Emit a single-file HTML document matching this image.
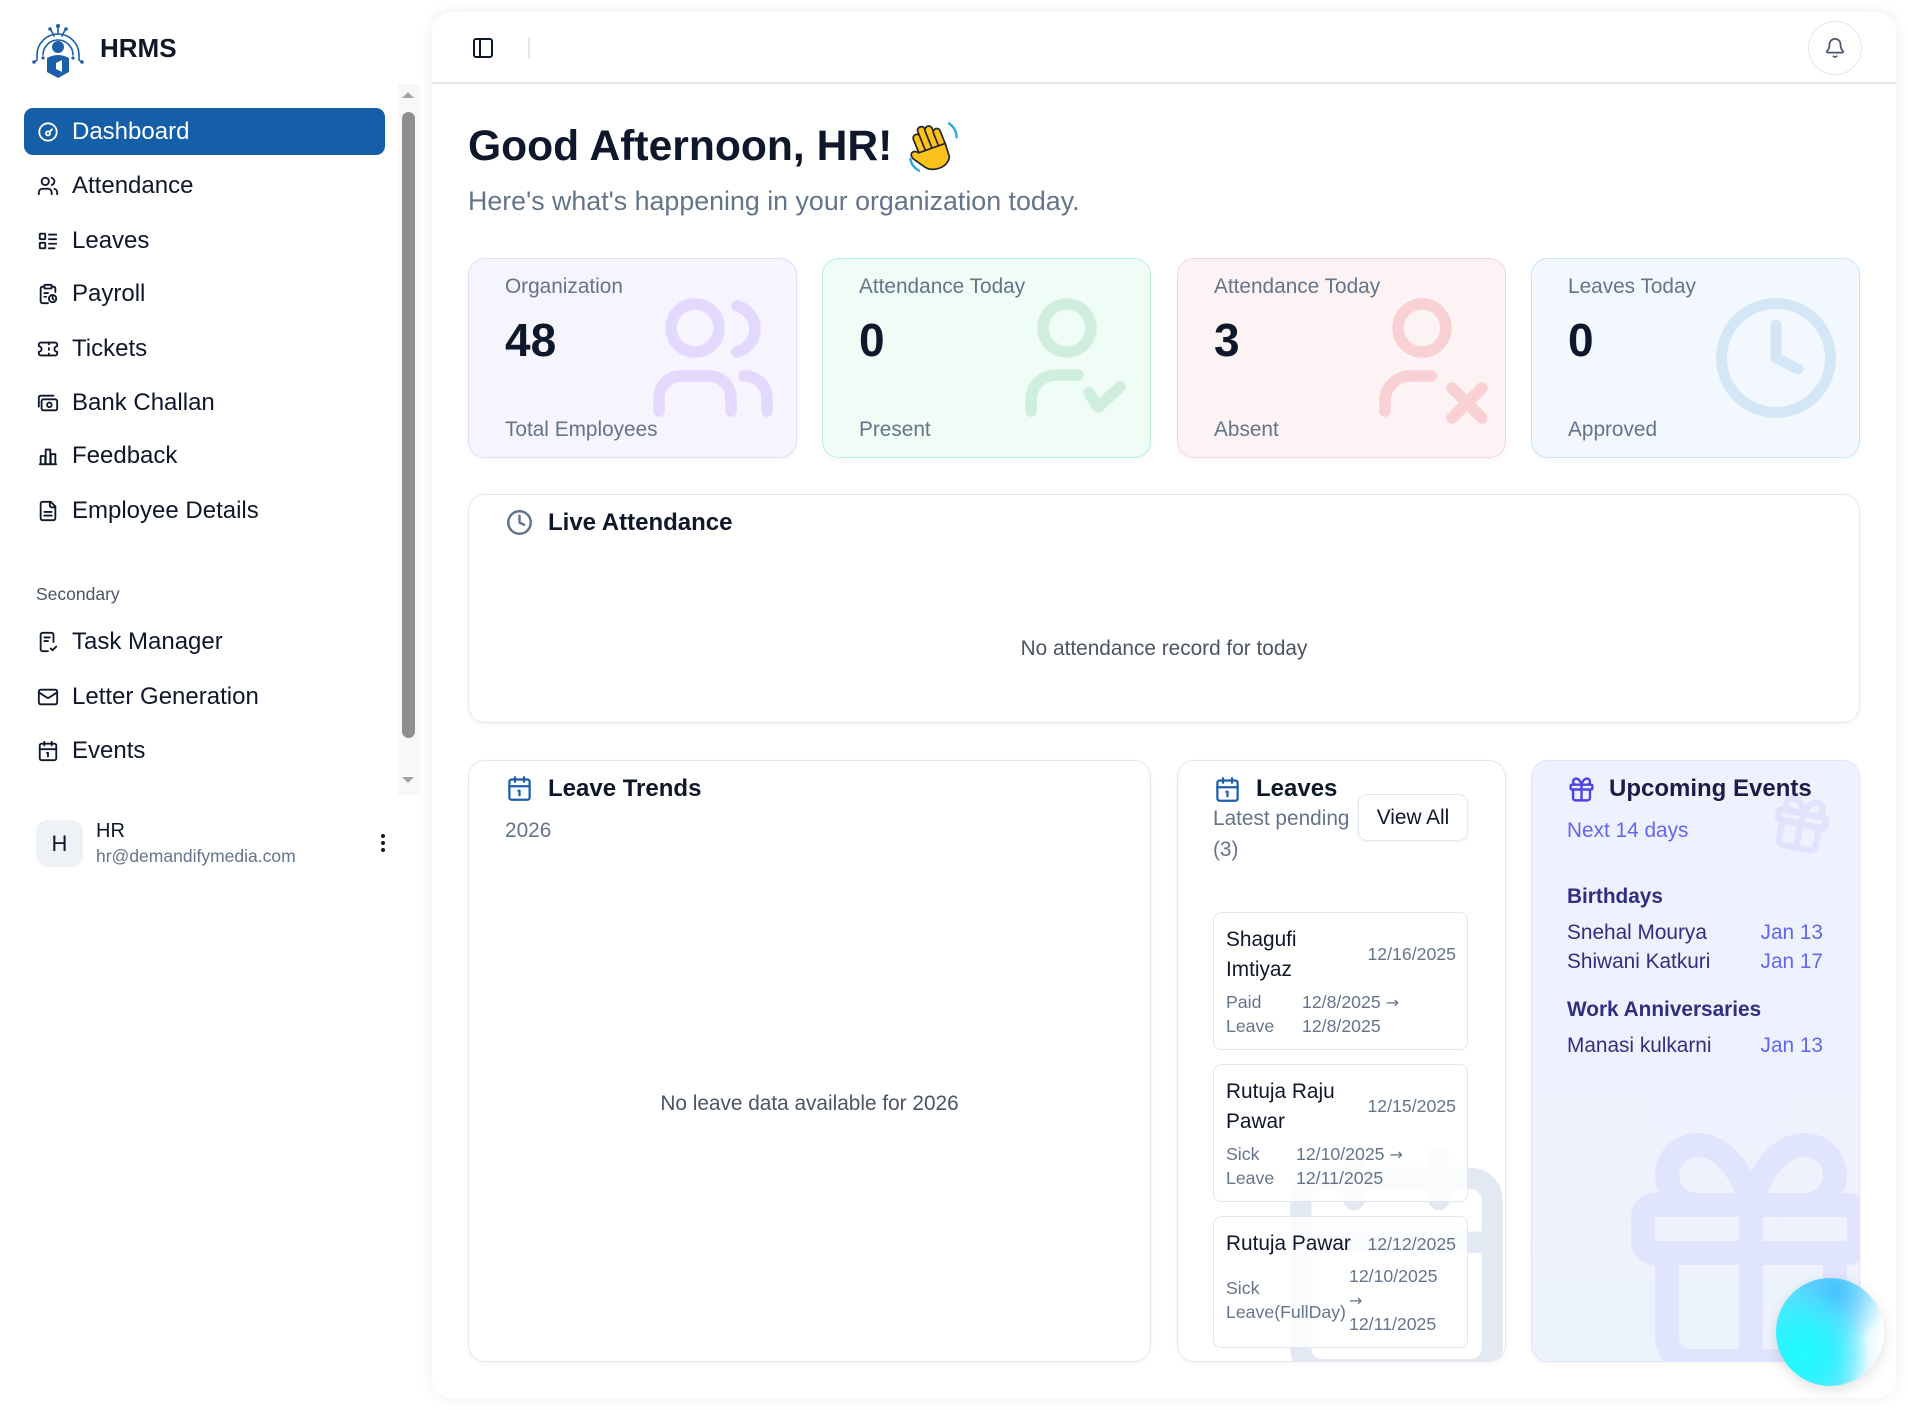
<!DOCTYPE html>
<html><head><meta charset="utf-8">
<style>
*{box-sizing:border-box;margin:0;padding:0}
html,body{width:1908px;height:1410px;overflow:hidden;background:#fff}
body{position:relative;font-family:"Liberation Sans",Arial,sans-serif;color:#0f172a}
.a{position:absolute;white-space:nowrap;line-height:30px;height:30px}
.ic{position:absolute;fill:none;stroke:#0f172a;stroke-width:2;stroke-linecap:round;stroke-linejoin:round}
.nav{font-size:24px;color:#0f172a}
.m{font-size:20.8px}
.s{font-size:17.7px;color:#64748b}
.g{color:#64748b}
.b{font-weight:bold}
.ar{font-family:"DejaVu Sans",sans-serif;font-size:16px}
.card{position:absolute;border-radius:17px;overflow:hidden}
.item{position:absolute;left:1213px;width:255px;border:1px solid #e2e8f0;border-radius:8px;background:rgba(255,255,255,0.8);backdrop-filter:blur(3px)}
</style></head><body>

<!-- Sidebar -->
<svg style="position:absolute;left:31px;top:22px" width="54" height="58" viewBox="0 0 54 58">
 <g fill="none" stroke="#1c5ea9" stroke-width="1.6" stroke-linecap="round">
  <path d="M6 33 A21 21 0 0 1 48 33"/>
  <path d="M12 33 A15 15 0 0 1 42 33"/>
  <path d="M27 4 V12"/><path d="M20 8 L23 14"/><path d="M34 8 L31 14"/>
  <path d="M6 33 V38 L3 40"/><path d="M48 33 V38 L51 40"/>
 </g>
 <g fill="#1c5ea9">
  <circle cx="27" cy="4" r="2"/><circle cx="19" cy="7" r="1.8"/><circle cx="35" cy="7" r="1.8"/>
  <circle cx="3" cy="40" r="1.8"/><circle cx="51" cy="40" r="1.8"/>
  <circle cx="12" cy="36" r="1.6"/><circle cx="42" cy="36" r="1.6"/>
  <circle cx="27" cy="25" r="6"/>
  <path d="M16 36 Q27 30 38 36 L38 50 L27 56 L16 50 Z"/>
 </g>
 <path d="M25 41 L31 38 L31 50 L25 47 Z" fill="#fff"/>
</svg>
<div class="a b" style="left:100px;top:33px;font-size:26px">HRMS</div>

<div style="position:absolute;left:24px;top:108px;width:361px;height:47px;border-radius:9px;background:#155ea8"></div>
<svg class="ic" style="left:37px;top:121px;stroke:#fff" width="22" height="22" viewBox="0 0 24 24"><circle cx="12" cy="12" r="9.5"/><circle cx="12" cy="13.5" r="2.2"/><path d="M13.6 12 16.5 9"/></svg>
<div class="a nav" style="left:72px;top:117px;color:#fff">Dashboard</div>

<svg class="ic" style="left:37px;top:175px" width="22" height="22" viewBox="0 0 24 24"><path d="M16 21v-2a4 4 0 0 0-4-4H6a4 4 0 0 0-4 4v2"/><circle cx="9" cy="7" r="4"/><path d="M22 21v-2a4 4 0 0 0-3-3.87"/><path d="M16 3.13a4 4 0 0 1 0 7.75"/></svg>
<div class="a nav" style="left:72px;top:171px">Attendance</div>

<svg class="ic" style="left:37px;top:230px" width="22" height="22" viewBox="0 0 24 24"><rect x="3" y="4" width="6" height="6" rx="1"/><rect x="3" y="14" width="6" height="6" rx="1"/><path d="M13 5h8M13 10h8M13 15h8M13 20h6"/></svg>
<div class="a nav" style="left:72px;top:226px">Leaves</div>

<svg class="ic" style="left:37px;top:283px" width="22" height="22" viewBox="0 0 24 24"><rect x="8" y="2" width="8" height="4" rx="1"/><path d="M16 4h2a2 2 0 0 1 2 2v4"/><path d="M8 4H6a2 2 0 0 0-2 2v14a2 2 0 0 0 2 2h6"/><circle cx="17" cy="17" r="4"/><path d="M17 15v2l1 1"/><path d="M8 11h4M8 15h2"/></svg>
<div class="a nav" style="left:72px;top:279px">Payroll</div>

<svg class="ic" style="left:37px;top:338px" width="22" height="22" viewBox="0 0 24 24"><path d="M2 9a3 3 0 0 1 0 6v2a2 2 0 0 0 2 2h16a2 2 0 0 0 2-2v-2a3 3 0 0 1 0-6V7a2 2 0 0 0-2-2H4a2 2 0 0 0-2 2Z"/><path d="M13 5v2M13 17v2M13 11v2"/></svg>
<div class="a nav" style="left:72px;top:334px">Tickets</div>

<svg class="ic" style="left:37px;top:392px" width="22" height="22" viewBox="0 0 24 24"><rect x="5" y="8" width="17" height="12" rx="2"/><circle cx="13.5" cy="14" r="2.5"/><path d="M2 16V6a2 2 0 0 1 2-2h14"/></svg>
<div class="a nav" style="left:72px;top:388px">Bank Challan</div>

<svg class="ic" style="left:37px;top:445px" width="22" height="22" viewBox="0 0 24 24"><path d="M3 21h18"/><rect x="4" y="12" width="5" height="9"/><rect x="9.5" y="5" width="5" height="16"/><rect x="15" y="10" width="5" height="11"/></svg>
<div class="a nav" style="left:72px;top:441px">Feedback</div>

<svg class="ic" style="left:37px;top:500px" width="22" height="22" viewBox="0 0 24 24"><path d="M15 2H6a2 2 0 0 0-2 2v16a2 2 0 0 0 2 2h12a2 2 0 0 0 2-2V7Z"/><path d="M14 2v4a2 2 0 0 0 2 2h4"/><path d="M16 13H8M16 17H8"/></svg>
<div class="a nav" style="left:72px;top:496px">Employee Details</div>

<div class="a" style="left:36px;top:579px;font-size:17.5px;color:#4b5563">Secondary</div>

<svg class="ic" style="left:37px;top:631px" width="22" height="22" viewBox="0 0 24 24"><path d="M18 12V4a2 2 0 0 0-2-2H6a2 2 0 0 0-2 2v16a2 2 0 0 0 2 2h6"/><path d="M8 7h6M8 11h4"/><path d="m15 19 2 2 4-4"/></svg>
<div class="a nav" style="left:72px;top:627px">Task Manager</div>

<svg class="ic" style="left:37px;top:686px" width="22" height="22" viewBox="0 0 24 24"><rect x="2" y="4" width="20" height="16" rx="2"/><path d="m22 7-8.97 5.7a1.94 1.94 0 0 1-2.06 0L2 7"/></svg>
<div class="a nav" style="left:72px;top:682px">Letter Generation</div>

<svg class="ic" style="left:37px;top:740px" width="22" height="22" viewBox="0 0 24 24"><rect x="3" y="4" width="18" height="18" rx="2"/><path d="M16 2v4M8 2v4M3 10h18M11 14h1v4"/></svg>
<div class="a nav" style="left:72px;top:736px">Events</div>

<!-- scrollbar -->
<div style="position:absolute;left:398px;top:84px;width:22px;height:711px;background:#f8f8f8"></div>
<div style="position:absolute;left:402px;top:92px;width:0;height:0;border-left:6px solid transparent;border-right:6px solid transparent;border-bottom:6px solid #a3a3a3"></div>
<div style="position:absolute;left:402px;top:112px;width:13px;height:626px;border-radius:7px;background:#8f8f8f"></div>
<div style="position:absolute;left:402px;top:777px;width:0;height:0;border-left:6px solid transparent;border-right:6px solid transparent;border-top:6px solid #a3a3a3"></div>

<!-- user -->
<div style="position:absolute;left:36px;top:820px;width:47px;height:47px;border-radius:12px;background:#eef2f7;text-align:center;line-height:47px;font-size:22px;color:#0f172a">H</div>
<div class="a" style="left:96px;top:816px;font-size:20px">HR</div>
<div class="a" style="left:96px;top:841px;font-size:17.5px;color:#64748b">hr@demandifymedia.com</div>
<div style="position:absolute;left:381px;top:834px;width:4px;height:4px;border-radius:2px;background:#0f172a"></div>
<div style="position:absolute;left:381px;top:841px;width:4px;height:4px;border-radius:2px;background:#0f172a"></div>
<div style="position:absolute;left:381px;top:848px;width:4px;height:4px;border-radius:2px;background:#0f172a"></div>

<!-- Main panel -->
<div style="position:absolute;left:432px;top:12px;width:1464px;height:1386px;border-radius:20px;background:#fff;box-shadow:0 0 16px rgba(0,0,0,0.07)"></div>
<div style="position:absolute;left:432px;top:82px;width:1464px;height:1.5px;background:#e5e7eb"></div>
<svg class="ic" style="left:471px;top:36px" width="24" height="24" viewBox="0 0 24 24"><rect width="18" height="18" x="3" y="3" rx="2"/><path d="M9 3v18"/></svg>
<div style="position:absolute;left:528px;top:37px;width:1.5px;height:22px;background:#e2e8f0"></div>
<div style="position:absolute;left:1808px;top:21px;width:54px;height:54px;border-radius:50%;border:1px solid #e2e8f0;background:#fff"></div>
<svg class="ic" style="left:1824px;top:37px;stroke:#475569;stroke-width:1.9" width="22" height="22" viewBox="0 0 24 24"><path d="M10.268 21a2 2 0 0 0 3.464 0"/><path d="M3.262 15.326A1 1 0 0 0 4 17h16a1 1 0 0 0 .74-1.673C19.41 13.956 18 12.499 18 8A6 6 0 0 0 6 8c0 4.499-1.411 5.956-2.738 7.326"/></svg>

<!-- Greeting -->
<div class="a b" style="left:468px;top:121px;line-height:50px;height:50px;font-size:42.6px">Good Afternoon, HR!</div>
<svg style="position:absolute;left:905px;top:118px" width="58" height="58" viewBox="0 0 54 54">
 <g transform="rotate(-22 27 30)" fill="#fcc21b" stroke="#262626" stroke-width="1.6" stroke-linejoin="round">
  <rect x="13" y="10" width="7" height="24" rx="3.5"/>
  <rect x="19.5" y="5" width="7" height="27" rx="3.5"/>
  <rect x="26" y="7" width="7" height="25" rx="3.5"/>
  <rect x="32.5" y="12" width="6.5" height="21" rx="3.2"/>
  <path d="M13 27 C9 22 4 24 6 30 L13 41 C18 49 33 50 38 41 L39 28 Z"/>
 </g>
 <path d="M41 5 q7 5 7 13" stroke="#29a8e0" stroke-width="2.2" fill="none" stroke-linecap="round"/>
 <path d="M5 38 q1 7 8 11" stroke="#29a8e0" stroke-width="2.2" fill="none" stroke-linecap="round"/>
</svg>
<div class="a g" style="left:468px;top:186px;font-size:26.8px">Here's what's happening in your organization today.</div>

<!-- Stat cards -->
<div class="card" style="left:468px;top:258px;width:329px;height:200px;background:#f6f4fe;border:1px solid #e2dcfd;box-shadow:0 2px 6px rgba(0,0,0,0.04)">
 <svg style="position:absolute;left:-1px;top:-1px;overflow:visible" width="329" height="200" fill="none" stroke="#e4d8fc" stroke-width="11.5" stroke-linecap="round">
  <circle cx="227" cy="70" r="24"/>
  <path d="M191 153V140a22 22 0 0 1 22-22h28a22 22 0 0 1 22 22v13"/>
  <path d="M276 118a22 22 0 0 1 23 22v13"/>
  <path d="M269 48a23.7 23.7 0 0 1 0 46"/>
 </svg>
</div>
<div class="card" style="left:822px;top:258px;width:329px;height:200px;background:#effdf6;border:1px solid #b8f1d4;box-shadow:0 2px 6px rgba(0,0,0,0.04)">
 <svg style="position:absolute;left:6px;top:-1px;overflow:visible" width="329" height="200" fill="none" stroke="#cfeee0" stroke-width="11.5" stroke-linecap="round" stroke-linejoin="round">
  <circle cx="238" cy="70" r="24"/>
  <path d="M202 153v-11a25 25 0 0 1 25-25h22"/>
  <path d="M260 135l9 14 22-20"/>
 </svg>
</div>
<div class="card" style="left:1177px;top:258px;width:329px;height:200px;background:#fdf3f4;border:1px solid #fbd3d6;box-shadow:0 2px 6px rgba(0,0,0,0.04)">
 <svg style="position:absolute;left:-2px;top:-1px;overflow:visible" width="329" height="200" fill="none" stroke="#f9d1d5" stroke-width="11.5" stroke-linecap="round">
  <circle cx="246" cy="70" r="24"/>
  <path d="M209 153v-10a25 25 0 0 1 25-25h21"/>
  <path d="M276 130l30 30M306 130l-30 30"/>
 </svg>
</div>
<div class="card" style="left:1531px;top:258px;width:329px;height:200px;background:#f3f8fe;border:1px solid #c5e5fb;box-shadow:0 2px 6px rgba(0,0,0,0.04)">
 <svg style="position:absolute;left:-3px;top:-1px;overflow:visible" width="329" height="200" fill="none" stroke="#d3e7f6" stroke-width="11" stroke-linecap="round" stroke-linejoin="round">
  <circle cx="247" cy="100" r="54.5"/>
  <path d="M247 67v33l22 11"/>
 </svg>
</div>

<div class="a m g" style="left:505px;top:272px">Organization</div>
<div class="a b" style="left:505px;top:315px;line-height:50px;height:50px;font-size:46px">48</div>
<div class="a m g" style="left:505px;top:415px">Total Employees</div>

<div class="a m g" style="left:859px;top:272px">Attendance Today</div>
<div class="a b" style="left:859px;top:315px;line-height:50px;height:50px;font-size:46px">0</div>
<div class="a m g" style="left:859px;top:415px">Present</div>

<div class="a m g" style="left:1214px;top:272px">Attendance Today</div>
<div class="a b" style="left:1214px;top:315px;line-height:50px;height:50px;font-size:46px">3</div>
<div class="a m g" style="left:1214px;top:415px">Absent</div>

<div class="a m g" style="left:1568px;top:272px">Leaves Today</div>
<div class="a b" style="left:1568px;top:315px;line-height:50px;height:50px;font-size:46px">0</div>
<div class="a m g" style="left:1568px;top:415px">Approved</div>

<!-- Live attendance -->
<div class="card" style="left:468px;top:494px;width:1392px;height:229px;background:#fff;border:1px solid #e2e8f0;box-shadow:0 2px 6px rgba(0,0,0,0.04)"></div>
<svg class="ic" style="left:506px;top:509px;stroke:#64748b;stroke-width:2.2" width="27" height="27" viewBox="0 0 24 24"><circle cx="12" cy="12" r="10"/><path d="M12 6v6l4 2"/></svg>
<div class="a b" style="left:548px;top:508px;font-size:24px">Live Attendance</div>
<div class="a m" style="left:468px;width:1392px;text-align:center;top:634px;color:#4b5563">No attendance record for today</div>

<!-- Leave Trends -->
<div class="card" style="left:468px;top:760px;width:683px;height:602px;background:#fff;border:1px solid #e2e8f0;box-shadow:0 2px 6px rgba(0,0,0,0.04)"></div>
<svg class="ic" style="left:506px;top:775px;stroke:#1d5fae" width="27" height="27" viewBox="0 0 24 24"><rect x="3" y="4" width="18" height="18" rx="2"/><path d="M16 2v4M8 2v4M3 10h18M11 14h1v4"/></svg>
<div class="a b" style="left:548px;top:774px;font-size:24px">Leave Trends</div>
<div class="a m g" style="left:505px;top:816px">2026</div>
<div class="a m" style="left:468px;width:683px;text-align:center;top:1089px;color:#4b5563">No leave data available for 2026</div>

<!-- Leaves -->
<div class="card" style="left:1177px;top:760px;width:329px;height:602px;background:#fff;border:1px solid #e2e8f0;box-shadow:0 2px 6px rgba(0,0,0,0.04)">
 <svg style="position:absolute;left:91px;top:375px" width="255" height="255" viewBox="0 0 24 24" fill="none" stroke="#e3e9f2" stroke-width="2" stroke-linecap="round"><rect x="3" y="4" width="18" height="18" rx="2"/><path d="M16 2v4M8 2v4M3 10h18"/></svg>
</div>
<svg class="ic" style="left:1214px;top:776px;stroke:#1d5fae" width="27" height="27" viewBox="0 0 24 24"><rect x="3" y="4" width="18" height="18" rx="2"/><path d="M16 2v4M8 2v4M3 10h18M11 14h1v4"/></svg>
<div class="a b" style="left:1256px;top:774px;font-size:24px">Leaves</div>
<div class="a m g" style="left:1213px;top:804px">Latest pending</div>
<div class="a m g" style="left:1213px;top:835px">(3)</div>
<div style="position:absolute;left:1358px;top:794px;width:110px;height:47px;border:1px solid #e2e8f0;border-radius:9px;background:#fff;box-shadow:0 1px 3px rgba(0,0,0,0.05);text-align:center;line-height:45px;font-size:20.8px;color:#0f172a">View All</div>

<div class="item" style="top:912px;height:138px"></div>
<div class="a m" style="left:1226px;top:925px">Shagufi</div>
<div class="a m" style="left:1226px;top:955px">Imtiyaz</div>
<div class="a s" style="right:452px;top:939px">12/16/2025</div>
<div class="a s" style="left:1226px;top:987px">Paid</div>
<div class="a s" style="left:1226px;top:1011px">Leave</div>
<div class="a s" style="left:1302px;top:987px">12/8/2025 <span class="ar">→</span></div>
<div class="a s" style="left:1302px;top:1011px">12/8/2025</div>

<div class="item" style="top:1064px;height:138px"></div>
<div class="a m" style="left:1226px;top:1077px">Rutuja Raju</div>
<div class="a m" style="left:1226px;top:1107px">Pawar</div>
<div class="a s" style="right:452px;top:1091px">12/15/2025</div>
<div class="a s" style="left:1226px;top:1139px">Sick</div>
<div class="a s" style="left:1226px;top:1163px">Leave</div>
<div class="a s" style="left:1296px;top:1139px">12/10/2025 <span class="ar">→</span></div>
<div class="a s" style="left:1296px;top:1163px">12/11/2025</div>

<div class="item" style="top:1216px;height:132px"></div>
<div class="a m" style="left:1226px;top:1229px">Rutuja Pawar</div>
<div class="a s" style="right:452px;top:1229px">12/12/2025</div>
<div class="a s" style="left:1226px;top:1273px">Sick</div>
<div class="a s" style="left:1226px;top:1297px">Leave(FullDay)</div>
<div class="a s" style="left:1349px;top:1261px">12/10/2025</div>
<div class="a s" style="left:1349px;top:1285px"><span class="ar">→</span></div>
<div class="a s" style="left:1349px;top:1309px">12/11/2025</div>

<!-- Upcoming Events -->
<div class="card" style="left:1531px;top:760px;width:329px;height:602px;background:linear-gradient(180deg,#eff1fe,#edf3fd);border:1px solid #dde4fb;box-shadow:0 2px 6px rgba(0,0,0,0.04)">
 <svg style="position:absolute;left:237px;top:31px;transform:rotate(12deg)" width="64" height="64" viewBox="0 0 24 24" fill="none" stroke="#dfe3fc" stroke-width="2.4" stroke-linecap="round" stroke-linejoin="round"><rect x="3" y="8" width="18" height="4" rx="1"/><path d="M12 8v13"/><path d="M19 12v7a2 2 0 0 1-2 2H7a2 2 0 0 1-2-2v-7"/><path d="M7.5 8a2.5 2.5 0 0 1 0-5A4.8 8 0 0 1 12 8a4.8 8 0 0 1 4.5-5 2.5 2.5 0 0 1 0 5"/></svg>
 <svg style="position:absolute;left:75px;top:348px" width="288" height="288" viewBox="0 0 24 24" fill="none" stroke="#e0e4fc" stroke-width="2" stroke-linecap="round" stroke-linejoin="round"><rect x="3" y="8" width="18" height="4" rx="1"/><path d="M12 8v13"/><path d="M19 12v7a2 2 0 0 1-2 2H7a2 2 0 0 1-2-2v-7"/><path d="M7.5 8a2.5 2.5 0 0 1 0-5A4.8 8 0 0 1 12 8a4.8 8 0 0 1 4.5-5 2.5 2.5 0 0 1 0 5"/></svg>
</div>
<svg class="ic" style="left:1567px;top:775px;stroke:#4f46e5" width="29" height="29" viewBox="0 0 24 24"><rect x="3" y="8" width="18" height="4" rx="1"/><path d="M12 8v13"/><path d="M19 12v7a2 2 0 0 1-2 2H7a2 2 0 0 1-2-2v-7"/><path d="M7.5 8a2.5 2.5 0 0 1 0-5A4.8 8 0 0 1 12 8a4.8 8 0 0 1 4.5-5 2.5 2.5 0 0 1 0 5"/></svg>
<div class="a b" style="left:1609px;top:774px;font-size:24px;color:#1e1b4b">Upcoming Events</div>
<div class="a m" style="left:1567px;top:816px;color:#6366f1">Next 14 days</div>
<div class="a m b" style="left:1567px;top:882px;color:#312e81">Birthdays</div>
<div class="a m" style="left:1567px;top:918px;color:#312e81">Snehal Mourya</div>
<div class="a m" style="right:85px;top:918px;color:#6366f1">Jan 13</div>
<div class="a m" style="left:1567px;top:947px;color:#312e81">Shiwani Katkuri</div>
<div class="a m" style="right:85px;top:947px;color:#6366f1">Jan 17</div>
<div class="a m b" style="left:1567px;top:995px;color:#312e81">Work Anniversaries</div>
<div class="a m" style="left:1567px;top:1031px;color:#312e81">Manasi kulkarni</div>
<div class="a m" style="right:85px;top:1031px;color:#6366f1">Jan 13</div>

<!-- Orb -->
<div style="position:absolute;left:1776px;top:1278px;width:108px;height:108px;border-radius:50%;box-shadow:0 4px 14px rgba(0,0,0,0.12);background:radial-gradient(circle at 25% 70%,#1ffcff 0%,rgba(40,245,255,0.9) 25%,rgba(60,230,255,0) 60%),radial-gradient(circle at 55% 12%,#45c4ff 0%,rgba(69,196,255,0) 50%),linear-gradient(90deg,#4fe6ff 0%,#86dcff 55%,#e6fbff 85%,#ffffff 100%)"></div>

</body></html>
